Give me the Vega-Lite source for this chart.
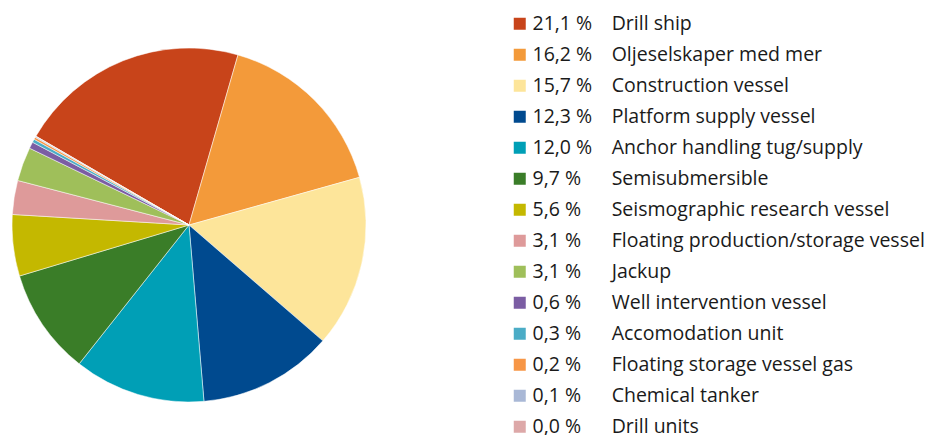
{
  "$schema": "https://vega.github.io/schema/vega-lite/v6.json",
  "width": 378,
  "height": 450,
  "autosize": "none",
  "padding": {"left": 0, "top": 0, "right": 560, "bottom": 0},
  "background": "white",
  "config": {"view": {"stroke": null}, "font": "Open Sans"},
  "data": {
    "values": [
      {"i": 1, "type": "Drill ship", "share": 21.1, "label": "21,1 %\u2002\u2002Drill ship"},
      {"i": 2, "type": "Oljeselskaper med mer", "share": 16.2, "label": "16,2 %\u2002\u2002Oljeselskaper med mer"},
      {"i": 3, "type": "Construction vessel", "share": 15.7, "label": "15,7 %\u2002\u2002Construction vessel"},
      {"i": 4, "type": "Platform supply vessel", "share": 12.3, "label": "12,3 %\u2002\u2002Platform supply vessel"},
      {"i": 5, "type": "Anchor handling tug/supply", "share": 12.0, "label": "12,0 %\u2002\u2002Anchor handling tug/supply"},
      {"i": 6, "type": "Semisubmersible", "share": 9.7, "label": "9,7 %\u2007\u2002\u2002Semisubmersible"},
      {"i": 7, "type": "Seismographic research vessel", "share": 5.6, "label": "5,6 %\u2007\u2002\u2002Seismographic research vessel"},
      {"i": 8, "type": "Floating production/storage vessel", "share": 3.1, "label": "3,1 %\u2007\u2002\u2002Floating production/storage vessel"},
      {"i": 9, "type": "Jackup", "share": 3.1, "label": "3,1 %\u2007\u2002\u2002Jackup"},
      {"i": 10, "type": "Well intervention vessel", "share": 0.6, "label": "0,6 %\u2007\u2002\u2002Well intervention vessel"},
      {"i": 11, "type": "Accomodation unit", "share": 0.3, "label": "0,3 %\u2007\u2002\u2002Accomodation unit"},
      {"i": 12, "type": "Floating storage vessel gas", "share": 0.2, "label": "0,2 %\u2007\u2002\u2002Floating storage vessel gas"},
      {"i": 13, "type": "Chemical tanker", "share": 0.1, "label": "0,1 %\u2007\u2002\u2002Chemical tanker"},
      {"i": 14, "type": "Drill units", "share": 0.02, "label": "0,0 %\u2007\u2002\u2002Drill units"}
    ]
  },
  "mark": {"type": "arc", "outerRadius": 177, "stroke": "white", "strokeWidth": 0.5},
  "encoding": {
    "theta": {"field": "share", "type": "quantitative", "stack": true, "scale": {"range": [-1.045, 5.238]}},
    "order": {"field": "i", "type": "quantitative"},
    "color": {
      "field": "label",
      "type": "nominal",
      "scale": {
        "domain": ["21,1 %\u2002\u2002Drill ship", "16,2 %\u2002\u2002Oljeselskaper med mer", "15,7 %\u2002\u2002Construction vessel", "12,3 %\u2002\u2002Platform supply vessel", "12,0 %\u2002\u2002Anchor handling tug/supply", "9,7 %\u2007\u2002\u2002Semisubmersible", "5,6 %\u2007\u2002\u2002Seismographic research vessel", "3,1 %\u2007\u2002\u2002Floating production/storage vessel", "3,1 %\u2007\u2002\u2002Jackup", "0,6 %\u2007\u2002\u2002Well intervention vessel", "0,3 %\u2007\u2002\u2002Accomodation unit", "0,2 %\u2007\u2002\u2002Floating storage vessel gas", "0,1 %\u2007\u2002\u2002Chemical tanker", "0,0 %\u2007\u2002\u2002Drill units"],
        "range": ["#C8441A", "#F39A3A", "#FDE59A", "#004A8F", "#009FB6", "#3A7D28", "#C4B800", "#DE9A9A", "#9FBF5A", "#7B5DA3", "#4BACC6", "#F79646", "#A9B8D6", "#DDA8A8"]
      },
      "legend": {
        "title": null,
        "orient": "none",
        "legendX": 510,
        "legendY": 14,
        "padding": 0,
        "symbolType": "square",
        "symbolSize": 144,
        "symbolStrokeWidth": 0,
        "labelFont": "Open Sans",
        "labelFontSize": 19.5,
        "labelColor": "#1a1a1a",
        "labelOffset": 3,
        "labelLimit": 500,
        "rowPadding": 10
      }
    }
  }
}
